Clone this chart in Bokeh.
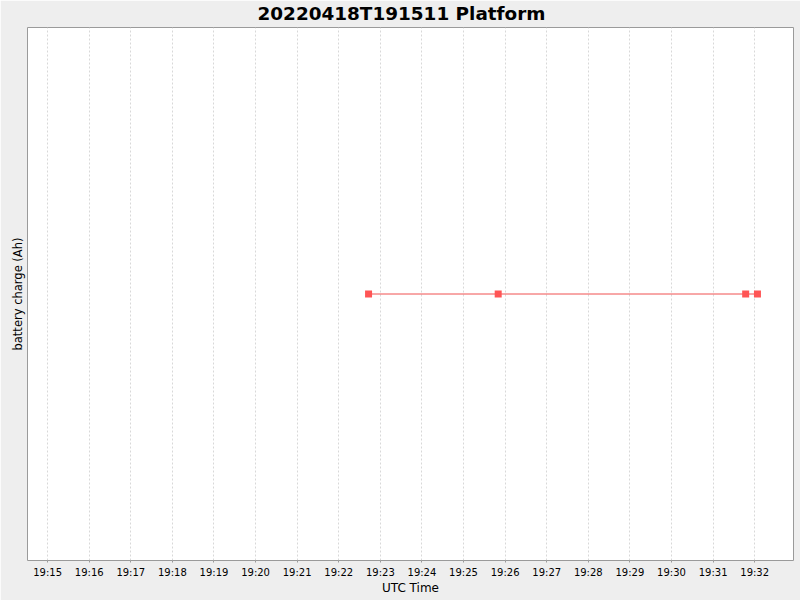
import pandas as pd
from bokeh.plotting import figure
from bokeh.models import Range1d, FixedTicker, DatetimeTickFormatter, ColumnDataSource
from bokeh.embed import file_html
from bokeh.resources import INLINE

# ---- data ----
title_text = "20220418T191511 Platform"
times = ["2022-04-18 19:22:43", "2022-04-18 19:25:50", "2022-04-18 19:31:47", "2022-04-18 19:32:04"]
charge = [0.0, 0.0, 0.0, 0.0]
tick_labels = ["19:15", "19:16", "19:17", "19:18", "19:19", "19:20", "19:21", "19:22", "19:23",
               "19:24", "19:25", "19:26", "19:27", "19:28", "19:29", "19:30", "19:31", "19:32"]
x_start = "2022-04-18 19:14:31"
x_end = "2022-04-18 19:32:56"
y_low, y_high = -1.0, 1.0

FONT = "DejaVu Sans"

src = ColumnDataSource(dict(t=pd.to_datetime(times), v=charge))

p = figure(width=800, height=600, x_axis_type="datetime", output_backend="svg",
           toolbar_location=None, title=title_text,
           x_range=Range1d(pd.Timestamp(x_start), pd.Timestamp(x_end)),
           y_range=Range1d(y_low, y_high),
           min_border_left=27, min_border_right=7, min_border_top=26, min_border_bottom=40)

p.background_fill_color = "white"
p.border_fill_color = "#eeeeee"
p.outline_line_color = "#9a9a9a"
p.outline_line_width = 1

# title centred on the whole chart (not the plot area)
p.title.align = "left"
p.title.vertical_align = "top"
p.title.offset = 230
p.title.text_font = FONT
p.title.text_font_size = "18.4px"
p.title.text_font_style = "bold"
p.title.text_color = "black"
p.title.standoff = 4

tick_ms = [pd.Timestamp("2022-04-18 " + s).value // 10**6 for s in tick_labels]
p.xaxis.ticker = FixedTicker(ticks=tick_ms)
fmt = "%H:%M"
p.xaxis.formatter = DatetimeTickFormatter(microseconds=fmt, milliseconds=fmt, seconds=fmt, minsec=fmt,
                                          minutes=fmt, hourmin=fmt, hours=fmt, days=fmt,
                                          months=fmt, years=fmt)
p.xaxis.axis_label = "UTC Time"
p.xaxis.axis_label_text_font = FONT
p.xaxis.axis_label_text_font_size = "12px"
p.xaxis.axis_label_text_font_style = "normal"
p.xaxis.axis_label_text_color = "black"
p.xaxis.axis_label_standoff = 0
p.xaxis.major_label_text_font = FONT
p.xaxis.major_label_text_font_size = "10px"
p.xaxis.major_label_text_color = "black"
p.xaxis.major_label_standoff = 4
p.xaxis.axis_line_color = None
p.xaxis.major_tick_line_color = "#9a9a9a"
p.xaxis.major_tick_out = 2
p.xaxis.major_tick_in = 0
p.xaxis.minor_tick_line_color = None

p.yaxis.ticker = FixedTicker(ticks=[])
p.yaxis.axis_label = "battery charge (Ah)"
p.yaxis.axis_label_text_font = FONT
p.yaxis.axis_label_text_font_size = "11.5px"
p.yaxis.axis_label_text_font_style = "normal"
p.yaxis.axis_label_text_color = "black"
p.yaxis.axis_label_standoff = 3
p.yaxis.axis_line_color = None
p.yaxis.major_tick_line_color = None
p.yaxis.minor_tick_line_color = None

p.xgrid.grid_line_color = "#d8d8d8"
p.xgrid.grid_line_dash = "2 2"
p.ygrid.visible = False

p.line("t", "v", source=src, line_color="#f05050", line_width=1)
p.scatter("t", "v", source=src, marker="square", size=7, fill_color="#ff5555",
          line_color=None)

open("out.html", "w").write(file_html(p, INLINE))
